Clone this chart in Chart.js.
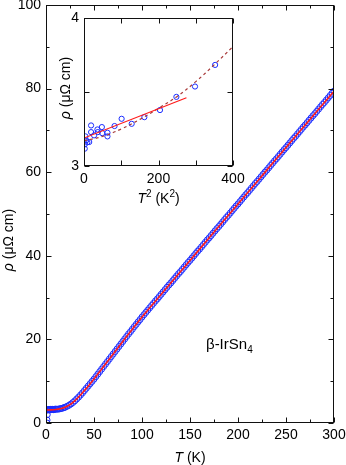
<!DOCTYPE html>
<html>
<head>
<meta charset="utf-8">
<script src="https://cdn.jsdelivr.net/npm/chart.js@4.4.1/dist/chart.umd.min.js"></script>
<style>
  html,body{margin:0;padding:0;background:#fff;}
  #wrap{position:relative;width:346px;height:465px;overflow:hidden;font-family:"Liberation Sans",Arial,Helvetica,sans-serif;color:#000;}
  canvas{position:absolute;}
  .lbl{position:absolute;font-size:14px;line-height:16px;white-space:nowrap;}
  .rot{transform:rotate(-90deg);transform-origin:center center;}
</style>
</head>
<body>
<div id="wrap">
  <canvas id="main" width="346" height="465" style="left:0;top:0;width:346px;height:465px"></canvas>
  <canvas id="inset" width="200" height="210" style="left:50px;top:0;width:200px;height:210px"></canvas>
  <div class="lbl" style="left:46px;width:288px;top:449px;text-align:center"><i>T</i> (K)</div>
  <div class="lbl rot" style="left:-32px;top:232px;width:80px;text-align:center"><i>ρ</i> (μΩ cm)</div>
  <div class="lbl" style="left:84px;width:149px;top:190px;text-align:center"><i>T</i><sup style="font-size:10px;line-height:0">2</sup> (K<sup style="font-size:10px;line-height:0">2</sup>)</div>
  <div class="lbl rot" style="left:25px;top:80px;width:80px;text-align:center"><i>ρ</i> (μΩ cm)</div>
  <div class="lbl" style="left:206px;top:336px;font-size:15px">β-IrSn<sub style="font-size:10px;line-height:0">4</sub></div>
</div>
<script>
// ---------- main panel data: resistivity vs temperature ----------
const tempK = [0.9, 1.1, 1.3, 1.4, 2.0, 2.4, 3.0, 3.7, 4.4, 4.4, 5.2, 6.0, 6.1, 6.9, 7.0, 7.9, 7.9, 9.0, 10.0, 11.3, 12.7, 14.3, 15.7, 17.3, 18.8,
  20, 22, 24, 26, 28, 30, 32, 34, 36, 38, 40, 42, 44, 46, 48, 50, 52, 54, 56, 58, 60, 62, 64, 66, 68, 70,
  72, 74, 76, 78, 80, 82, 84, 86, 88, 90, 92, 94, 96, 98, 100, 102, 104, 106, 108, 110, 112, 114, 116, 118, 120,
  122, 124, 126, 128, 130, 132, 134, 136, 138, 140, 142, 144, 146, 148, 150, 152, 154, 156, 158, 160,
  162, 164, 166, 168, 170, 172, 174, 176, 178, 180, 182, 184, 186, 188, 190, 192, 194, 196, 198, 200,
  202, 204, 206, 208, 210, 212, 214, 216, 218, 220, 222, 224, 226, 228, 230, 232, 234, 236, 238, 240,
  242, 244, 246, 248, 250, 252, 254, 256, 258, 260, 262, 264, 266, 268, 270, 272, 274, 276, 278, 280,
  282, 284, 286, 288, 290, 292, 294, 296, 298, 300];
const rhoMain = [0.0, 0.7, 2.0, 3.12, 3.15, 3.20, 3.17, 3.16, 3.16, 3.27, 3.23, 3.21, 3.25, 3.23, 3.26, 3.22, 3.20, 3.27, 3.32, 3.29, 3.33, 3.38, 3.47, 3.54, 3.68,
  3.78, 4.0, 4.25, 4.55, 4.9, 5.3, 5.75, 6.2, 6.7, 7.2, 7.75, 8.3, 8.85, 9.4, 9.95, 10.5, 11.1, 11.7, 12.3, 12.9, 13.5, 14.1, 14.7, 15.3, 15.9, 16.5,
  17.1, 17.7, 18.3, 18.9, 19.5, 20.1, 20.7, 21.3, 21.85, 22.45, 23.05, 23.6, 24.2, 24.75, 25.35, 25.9, 26.45, 27.0, 27.55, 28.1, 28.65, 29.2, 29.7, 30.25, 30.8,
  31.35, 31.9, 32.45, 33.0, 33.5, 34.05, 34.6, 35.15, 35.7, 36.2, 36.75, 37.3, 37.85, 38.4, 38.9, 39.45, 40.0, 40.55, 41.1, 41.6,
  42.15, 42.7, 43.25, 43.8, 44.3, 44.85, 45.4, 45.95, 46.5, 47.0, 47.55, 48.1, 48.65, 49.2, 49.7, 50.25, 50.8, 51.35, 51.9, 52.4,
  52.95, 53.5, 54.05, 54.6, 55.1, 55.65, 56.2, 56.75, 57.3, 57.8, 58.35, 58.9, 59.45, 60.0, 60.5, 61.05, 61.6, 62.15, 62.7, 63.2,
  63.75, 64.3, 64.85, 65.4, 65.9, 66.45, 67.0, 67.55, 68.1, 68.6, 69.15, 69.7, 70.25, 70.8, 71.3, 71.85, 72.4, 72.95, 73.5, 74.0,
  74.55, 75.1, 75.65, 76.2, 76.7, 77.25, 77.8, 78.35, 78.9, 79.4];
// fit curve (red solid)
const fitT = [0, 5, 10, 15, 20, 25, 30, 35, 40, 45, 50, 55, 60, 70, 80, 90, 100, 120, 140, 160, 180, 200, 220, 240, 260, 280, 300];
const fitRho = [3.12, 3.14, 3.22, 3.40, 3.78, 4.4, 5.3, 6.45, 7.75, 9.1, 10.5, 12.0, 13.5, 16.5, 19.5, 22.45, 25.35, 30.8, 36.2, 41.6, 47.0, 52.4, 57.8, 63.2, 68.6, 74.0, 79.35];
// main axes ticks
const mainXTicks = [0, 50, 100, 150, 200, 250, 300];
const mainXMinor = [25, 75, 125, 175, 225, 275];
const mainYTicks = [0, 20, 40, 60, 80, 100];
const mainYMinor = [10, 30, 50, 70, 90];

// ---------- inset data: resistivity vs T^2 ----------
const insetT2 = [2, 2, 4, 6, 9, 14, 19, 19, 27, 36, 37, 48, 49, 63, 63, 82, 101, 128, 162, 204, 248, 298, 352];
const insetRho = [3.117, 3.146, 3.20, 3.173, 3.16, 3.162, 3.274, 3.229, 3.207, 3.247, 3.229, 3.263, 3.222, 3.225, 3.20, 3.27, 3.319, 3.285, 3.33, 3.378, 3.467, 3.537, 3.683];
// linear T^2 fit (red solid)
const insetLineT2 = [0, 275];
const insetLineRho = [3.189, 3.461];
// power-law fit (dashed)
const insetDashT2 = [0, 50, 100, 150, 200, 250, 300, 350, 400];
const insetDashRho = [3.17, 3.20, 3.25, 3.315, 3.39, 3.47, 3.57, 3.685, 3.807];
const insetXTicks = [0, 200, 400];
const insetXMinor = [100, 300];
const insetYTicks = [3, 4];
const insetYMinor = [3.5];

const FONT = '"Liberation Sans", Arial, Helvetica, sans-serif';
const BLUE = '#1a2cff';
const RED = '#ff1a1a';

function pts(xs, ys) { return xs.map((x, i) => ({x: x, y: ys[i]})); }

const frameTicks = {
  id: 'frameTicks',
  afterDatasetsDraw(chart, args, o) {
    const {ctx, chartArea: a, scales: {x, y}} = chart;
    const L = Math.round(a.left) + 0.5, R = Math.round(a.right) - 0.5;
    const T = Math.round(a.top) + 0.5, B = Math.round(a.bottom) - 0.5;
    ctx.save();
    ctx.strokeStyle = '#111';
    ctx.lineWidth = 1;
    ctx.beginPath();
    const tx = (v, len) => { const p = Math.round(x.getPixelForValue(v)) + 0.5;
      ctx.moveTo(p, B); ctx.lineTo(p, B - len); ctx.moveTo(p, T); ctx.lineTo(p, T + len); };
    const ty = (v, len) => { const p = Math.round(y.getPixelForValue(v)) + 0.5;
      ctx.moveTo(L, p); ctx.lineTo(L + len, p); ctx.moveTo(R, p); ctx.lineTo(R - len, p); };
    o.xMajor.forEach(v => tx(v, o.major));
    o.xMinor.forEach(v => tx(v, o.minor));
    o.yMajor.forEach(v => ty(v, o.major));
    o.yMinor.forEach(v => ty(v, o.minor));
    ctx.stroke();
    ctx.strokeRect(L, T, R - L, B - T);
    ctx.restore();
  }
};

function fixY(w) { return s => { s.width = w; s.paddingTop = 0; s.paddingBottom = 0; }; }
function fixX(h) { return s => { s.height = h; s.paddingLeft = 0; s.paddingRight = 0; }; }

new Chart(document.getElementById('main'), {
  type: 'scatter',
  data: {
    datasets: [
      { data: pts(fitT, fitRho), showLine: true, borderColor: RED, borderWidth: 1.6, pointRadius: 0, order: 0, tension: 0.3 },
      { data: pts(tempK, rhoMain), showLine: false, pointStyle: 'circle', pointRadius: 3, pointBorderWidth: 1,
        borderColor: BLUE, backgroundColor: 'rgba(0,0,0,0)', order: 1 }
    ]
  },
  options: {
    responsive: false, animation: false, devicePixelRatio: 1,
    layout: { padding: { left: 0, top: 5, right: 12, bottom: 0 } },
    plugins: { legend: { display: false }, tooltip: { enabled: false },
      frameTicks: { xMajor: mainXTicks, xMinor: mainXMinor, yMajor: mainYTicks, yMinor: mainYMinor, major: 5, minor: 3 } },
    scales: {
      x: { type: 'linear', min: 0, max: 300, afterFit: fixX(42),
        afterBuildTicks: s => { s.ticks = mainXTicks.map(v => ({value: v})); },
        grid: { display: false, drawTicks: false }, border: { display: false },
        ticks: { padding: 4, color: '#000', font: { family: FONT, size: 14 }, maxRotation: 0, autoSkip: false } },
      y: { type: 'linear', min: 0, max: 100, afterFit: fixY(46),
        afterBuildTicks: s => { s.ticks = mainYTicks.map(v => ({value: v})); },
        grid: { display: false, drawTicks: false }, border: { display: false },
        ticks: { padding: 5, color: '#000', font: { family: FONT, size: 14 }, autoSkip: false } }
    }
  },
  plugins: [frameTicks]
});

new Chart(document.getElementById('inset'), {
  type: 'scatter',
  data: {
    datasets: [
      { data: pts(insetLineT2, insetLineRho), showLine: true, borderColor: RED, borderWidth: 1.2, pointRadius: 0, order: 0 },
      { data: pts(insetDashT2, insetDashRho), showLine: true, borderColor: '#a83a3a', borderWidth: 1.2, borderDash: [3, 3], pointRadius: 0, tension: 0.4, order: 1 },
      { data: pts(insetT2, insetRho), showLine: false, pointStyle: 'circle', pointRadius: 2.6, pointBorderWidth: 1,
        borderColor: BLUE, backgroundColor: 'rgba(0,0,0,0)', order: 2 }
    ]
  },
  options: {
    responsive: false, animation: false, devicePixelRatio: 1,
    layout: { padding: { left: 0, top: 18, right: 17, bottom: 0 } },
    plugins: { legend: { display: false }, tooltip: { enabled: false },
      frameTicks: { xMajor: insetXTicks, xMinor: insetXMinor, yMajor: insetYTicks, yMinor: insetYMinor, major: 5, minor: 5 } },
    scales: {
      x: { type: 'linear', min: 0, max: 400, afterFit: fixX(44),
        afterBuildTicks: s => { s.ticks = insetXTicks.map(v => ({value: v})); },
        grid: { display: false, drawTicks: false }, border: { display: false },
        ticks: { padding: 5, color: '#000', font: { family: FONT, size: 14 }, maxRotation: 0, autoSkip: false } },
      y: { type: 'linear', min: 3, max: 4, afterFit: fixY(34),
        afterBuildTicks: s => { s.ticks = insetYTicks.map(v => ({value: v})); },
        grid: { display: false, drawTicks: false }, border: { display: false },
        ticks: { padding: 5, color: '#000', font: { family: FONT, size: 14 }, autoSkip: false } }
    }
  },
  plugins: [frameTicks]
});
</script>
</body>
</html>
